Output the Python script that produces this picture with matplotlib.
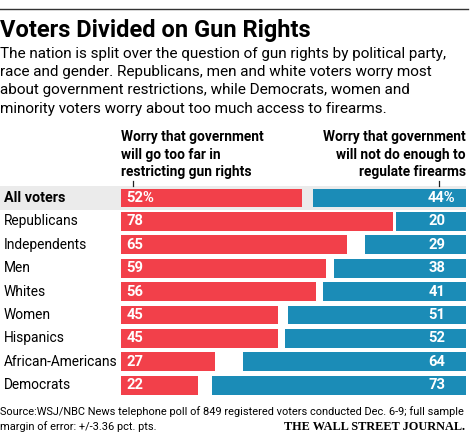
import matplotlib
matplotlib.use('Agg')
import matplotlib.pyplot as plt
import matplotlib.transforms as mtransforms
from matplotlib.patches import Rectangle

plt.rcParams['font.family'] = ['Roboto', 'DejaVu Sans']

# Data
groups = ["All voters", "Republicans", "Independents", "Men", "Whites",
          "Women", "Hispanics", "African-Americans", "Democrats"]
too_far = [52, 78, 65, 59, 56, 45, 45, 27, 22]
not_enough = [44, 20, 29, 38, 41, 51, 52, 64, 73]

title = "Voters Divided on Gun Rights"
subtitle = ("The nation is split over the question of gun rights by political party,\n"
            "race and gender. Republicans, men and white voters worry most\n"
            "about government restrictions, while Democrats, women and\n"
            "minority voters worry about too much access to firearms.")
head_left = "Worry that government\nwill go too far in\nrestricting gun rights"
head_right = "Worry that government\nwill not do enough to\nregulate firearms"
source1 = "Source:WSJ/NBC News telephone poll of 849 registered voters conducted Dec. 6-9; full sample"
source2 = "margin of error: +/-3.36 pct. pts."

RED = '#f2404a'
BLUE = '#1b8cb7'
W, H = 474, 436
XMAX = 99.1


def fx(x):
    return x / W


def fy(y):
    return 1 - y / H


fig = plt.figure(figsize=(W / 100, H / 100), dpi=100)

# top rule
fig.add_artist(plt.Line2D([0, fx(468)], [fy(9.5), fy(9.5)], color='#333333', lw=1.0))

fig.text(fx(0), fy(31), title, fontsize=17, fontweight='bold', va='center', ha='left')
fig.text(fx(0), fy(47), subtitle, fontsize=11.0, va='top', ha='left', linespacing=1.38)

fig.text(fx(121), fy(130), head_left, fontsize=9.9, fontweight='bold', va='top', ha='left',
         linespacing=1.33)
fig.text(fx(466), fy(130), head_right, fontsize=9.9, fontweight='bold', va='top', ha='right',
         linespacing=1.33, multialignment='right')

# axes for bars
top, bot = 186.3, 396.9
ax = fig.add_axes([fx(121), fy(bot), fx(466) - fx(121), (bot - top) / H])
ax.set_xlim(0, XMAX)
ax.set_ylim(len(groups) - 0.5, -0.5)
ax.axis('off')

# gray band behind "All voters"
trans = mtransforms.blended_transform_factory(fig.transFigure, ax.transData)
ax.add_patch(Rectangle((0, -0.5), fx(466), 1.03, transform=trans, clip_on=False,
                       facecolor='#ebebeb', edgecolor='none', zorder=0))

ys = list(range(len(groups)))
ax.barh(ys, too_far, height=0.81, color=RED, zorder=2)
ax.barh(ys, not_enough, left=[XMAX - v for v in not_enough], height=0.81, color=BLUE, zorder=2)

for i, (g, a, b) in enumerate(zip(groups, too_far, not_enough)):
    bold = 'bold' if i == 0 else 'normal'
    ax.text(fx(4), i, g, transform=trans, fontsize=9.9 if i else 10.4, fontweight=bold,
            va='center', ha='left', clip_on=False)
    ax.text(1.5, i, f"{a}%" if i == 0 else f"{a}", color='white', fontsize=10.6,
            fontweight='bold', va='center', ha='left', zorder=3)
    if i == 0:
        ax.text(XMAX - 3.2, i, f"{b}%", color='white', fontsize=10.6,
                fontweight='bold', va='center', ha='right', zorder=3)
    else:
        ax.text(XMAX - 6.0, i, f"{b}", color='white', fontsize=10.6,
                fontweight='bold', va='center', ha='right', zorder=3)

# small ticks under headers
for xp in (133, 439):
    fig.add_artist(plt.Line2D([fx(xp), fx(xp)], [fy(181), fy(186)], color='#222222', lw=0.9))

fig.text(fx(0), fy(412), source1, fontsize=7.9, va='center', ha='left')
fig.text(fx(0), fy(427), source2, fontsize=7.9, va='center', ha='left')
fig.text(fx(465), fy(427), "THE WALL STREET JOURNAL.", fontsize=8.8, fontweight='bold',
         family=['Liberation Serif', 'DejaVu Serif'], va='center', ha='right')

fig.savefig('out.png', dpi=100)
